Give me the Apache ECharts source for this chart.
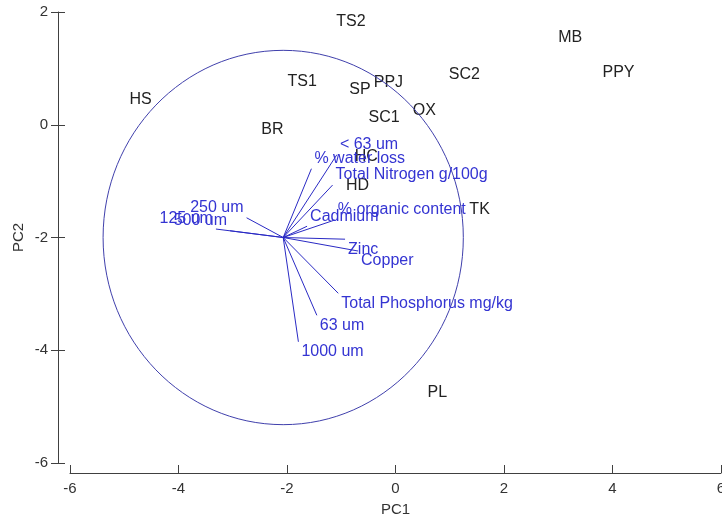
<!DOCTYPE html>
<html>
<head>
<meta charset="utf-8">
<script src="https://cdn.jsdelivr.net/npm/echarts@6/dist/echarts.min.js"></script>
<style>
  html, body { margin: 0; padding: 0; background: #ffffff; }
  #chart { width: 722px; height: 514px; }
</style>
</head>
<body>
<div id="chart"></div>
<script>
// Sample scores on the first two principal components
const sampleNames = ['TS2', 'TS1', 'SP', 'PPJ', 'SC2', 'OX', 'SC1', 'BR', 'MB', 'PPY', 'HS', 'HD', 'HC', 'TK', 'PL'];
const samplePC1 = [-0.82, -1.72, -0.655, -0.13, 1.27, 0.53, -0.21, -2.27, 3.22, 4.11, -4.70, -0.70, -0.54, 1.55, 0.77];
const samplePC2 = [1.83, 0.76, 0.62, 0.75, 0.89, 0.25, 0.12, -0.08, 1.54, 0.93, 0.44, -1.08, -0.56, -1.51, -4.75];

// Variable loading vectors (end points, drawn from the vector origin)
const variableNames = ['< 63 um', '% water loss', 'Total Nitrogen g/100g', '% organic content', 'Cadmium',
  'Zinc', 'Copper', 'Total Phosphorus mg/kg', '63 um', '1000 um', '250 um', '125 um', '500 um'];
const loadPC1 = [-1.08, -1.55, -1.16, -1.12, -1.63, -0.93, -0.69, -1.055, -1.45, -1.79, -2.745, -3.31, -3.05];
const loadPC2 = [-0.53, -0.78, -1.07, -1.69, -1.80, -2.03, -2.24, -2.99, -3.38, -3.85, -1.65, -1.85, -1.88];

// Vector origin and correlation circle
const vectorOrigin = [-2.07, -2.0];
const circleRadius = 3.32;

// Axis ranges
const xRange = [-6, 6];
const yRange = [-6, 2];
const tickStep = 2;

const FONT = '"Liberation Sans", Arial, sans-serif';
const sampleColor = '#222222';
const vectorColor = '#2a2ac4';
const vectorTextColor = '#3434d2';
const circleColor = '#4040ac';
const axisColor = '#404040';

const chart = echarts.init(document.getElementById('chart'), null, { renderer: 'canvas' });

const sampleData = sampleNames.map((n, i) => [samplePC1[i], samplePC2[i]]);
const vectorData = variableNames.map((n, i) => [loadPC1[i], loadPC2[i]]);

const option = {
  animation: false,
  backgroundColor: '#ffffff',
  grid: { left: 70, right: 1, top: 12, bottom: 51, containLabel: false, outerBoundsMode: 'none' },
  xAxis: {
    type: 'value', min: xRange[0], max: xRange[1], interval: tickStep,
    position: 'bottom', offset: 10,
    name: 'PC1', nameLocation: 'middle', nameGap: 29, nameMoveOverlap: false,
    nameTextStyle: { fontFamily: FONT, fontSize: 15, color: '#333' },
    axisLine: { show: true, onZero: false, lineStyle: { color: axisColor, width: 1 } },
    axisTick: { show: true, inside: true, length: 8, lineStyle: { color: axisColor } },
    axisLabel: { margin: 8, fontFamily: FONT, fontSize: 15, color: '#333' },
    splitLine: { show: false }
  },
  yAxis: [{
    type: 'value', min: yRange[0], max: yRange[1], interval: tickStep,
    position: 'left', offset: 12,
    name: 'PC2', nameLocation: 'middle', nameGap: 32, nameRotate: 90, nameMoveOverlap: false,
    nameTextStyle: { fontFamily: FONT, fontSize: 15, color: '#333' },
    axisLine: { show: true, onZero: false, lineStyle: { color: axisColor, width: 1 } },
    axisTick: { show: true, inside: false, length: 7, lineStyle: { color: axisColor } },
    axisLabel: { margin: 10, fontFamily: FONT, fontSize: 15, color: '#333' },
    splitLine: { show: false }
  }, {
    type: 'value', min: yRange[0], max: yRange[1], interval: tickStep,
    position: 'left', offset: 12,
    axisLine: { show: false, onZero: false },
    axisTick: { show: true, inside: true, length: 7, lineStyle: { color: axisColor } },
    axisLabel: { show: false },
    splitLine: { show: false }
  }],
  series: [
    {
      // sample labels at their scores
      type: 'custom',
      name: 'samples',
      data: sampleData,
      clip: false,
      renderItem: function (params, api) {
        const p = api.coord([api.value(0), api.value(1)]);
        return {
          type: 'text',
          x: p[0], y: p[1],
          style: {
            text: sampleNames[params.dataIndex],
            fill: sampleColor,
            font: '16px ' + FONT,
            align: 'center', verticalAlign: 'middle'
          }
        };
      }
    },
    {
      // correlation circle around the vector origin
      type: 'custom',
      name: 'circle',
      data: [[vectorOrigin[0], vectorOrigin[1], circleRadius]],
      clip: false,
      renderItem: function (params, api) {
        const c = api.coord([api.value(0), api.value(1)]);
        const r = api.value(2);
        const sz = api.size([r, r]);
        return {
          type: 'ellipse',
          shape: { cx: c[0], cy: c[1], rx: sz[0], ry: sz[1] },
          style: { fill: 'none', stroke: circleColor, lineWidth: 1 }
        };
      }
    },
    {
      // loading vectors with their labels
      type: 'custom',
      name: 'vectors',
      data: vectorData,
      clip: false,
      renderItem: function (params, api) {
        const p0 = api.coord(vectorOrigin);
        const p1 = api.coord([api.value(0), api.value(1)]);
        const toRight = p1[0] >= p0[0];
        const upward = p1[1] <= p0[1];
        return {
          type: 'group',
          children: [
            {
              type: 'line',
              shape: { x1: p0[0], y1: p0[1], x2: p1[0], y2: p1[1] },
              style: { stroke: vectorColor, lineWidth: 1 }
            },
            {
              type: 'text',
              x: p1[0] + (toRight ? 3 : -3),
              y: p1[1] + (upward ? -2 : 2),
              style: {
                text: variableNames[params.dataIndex],
                fill: vectorTextColor,
                font: '16px ' + FONT,
                align: toRight ? 'left' : 'right',
                verticalAlign: upward ? 'bottom' : 'top'
              }
            }
          ]
        };
      }
    }
  ]
};

chart.setOption(option);
</script>
</body>
</html>
